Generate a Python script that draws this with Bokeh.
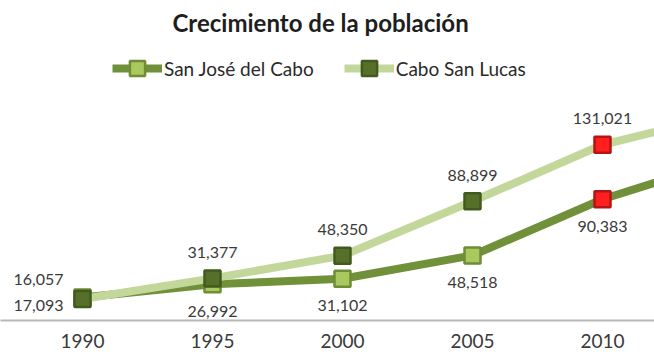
from bokeh.plotting import figure
from bokeh.models import Range1d, Legend, LegendItem, ColumnDataSource, FixedTicker
from bokeh.embed import file_html
from bokeh.resources import INLINE
from bokeh.core.properties import value

# ---- data ----
years = [1990, 1995, 2000, 2005, 2010, 2015]
san_jose = [17093, 26992, 31102, 48518, 90383, 121000]   # 2015 estimated (off-chart)
cabo_san_lucas = [16057, 31377, 48350, 88899, 131021, 155000]
tick_years = [1990, 1995, 2000, 2005, 2010]
highlight_year = 2010
labelled_years = [1990, 1995, 2000, 2005, 2010]

FONT = "Lato"

# colours
sj_line = "#71903A"
sj_fill, sj_edge = "#A9C95E", "#6F8D34"
csl_line = "#C4D79B"
csl_fill, csl_edge = "#56702A", "#435A1E"
red_fill, red_edge = "#FF1F1F", "#B51414"

def colors(fill, edge):
    f = [red_fill if y == highlight_year else fill for y in years]
    e = [red_edge if y == highlight_year else edge for y in years]
    return f, e

sj_f, sj_e = colors(sj_fill, sj_edge)
csl_f, csl_e = colors(csl_fill, csl_edge)

src_sj = ColumnDataSource(dict(x=years, y=san_jose, f=sj_f, e=sj_e))
src_csl = ColumnDataSource(dict(x=years, y=cabo_san_lucas, f=csl_f, e=csl_e))

p = figure(width=654, height=356, output_backend="svg", toolbar_location=None,
           x_range=Range1d(1986.846, 2012.0), y_range=Range1d(0, 208000),
           y_axis_location=None, min_border_left=0, min_border_right=0,
           min_border_top=0, min_border_bottom=36)
p.title.text = "Crecimiento de la población"
p.title.align = "left"
p.title.offset = 172
p.title.text_font = FONT
p.title.text_font_size = "24px"
p.title.text_font_style = "bold"
p.title.text_color = "#1E1E1E"

p.grid.visible = False
p.outline_line_color = None
p.background_fill_color = "white"
p.border_fill_color = "white"

ax = p.xaxis[0]
ax.ticker = FixedTicker(ticks=tick_years)
ax.axis_line_color = "#B8B8B8"
ax.axis_line_width = 2
ax.major_tick_line_color = None
ax.major_tick_out = 0
ax.major_tick_in = 0
ax.minor_tick_line_color = None
ax.minor_tick_out = 0
ax.major_label_text_font = FONT
ax.major_label_text_font_size = "19px"
ax.major_label_text_color = "#3A3A3A"
ax.major_label_standoff = 13

l1 = p.line("x", "y", source=src_sj, line_color=sj_line, line_width=8, line_join="round")
m1 = p.scatter("x", "y", source=src_sj, marker="square", size=16,
               fill_color="f", line_color="e", line_width=2.5)
l2 = p.line("x", "y", source=src_csl, line_color=csl_line, line_width=8, line_join="round")
m2 = p.scatter("x", "y", source=src_csl, marker="square", size=16,
               fill_color="f", line_color="e", line_width=2.5)

# data labels
def fmt(v):
    return f"{v:,}"

first = [i for i, y in enumerate(years) if y == labelled_years[0]]
rest = [i for i, y in enumerate(years) if y in labelled_years[1:]]

def label_src(vals, idx):
    return ColumnDataSource(dict(x=[years[i] for i in idx], y=[vals[i] for i in idx],
                                 t=[fmt(vals[i]) for i in idx]))

common = dict(text="t", text_font=value(FONT), text_font_size="16px",
              text_color="#3A3A3A", text_baseline="middle")
p.text("x", "y", source=label_src(cabo_san_lucas, rest), text_align="center", y_offset=-26, **common)
p.text("x", "y", source=label_src(san_jose, rest), text_align="center", y_offset=27, **common)
p.text("x", "y", source=label_src(cabo_san_lucas, first), text_align="right", x_offset=-19, y_offset=-19, **common)
p.text("x", "y", source=label_src(san_jose, first), text_align="right", x_offset=-19, y_offset=8, **common)

legend = Legend(items=[
    LegendItem(label="San José del Cabo", renderers=[l1, m1], index=0),
    LegendItem(label="Cabo San Lucas", renderers=[l2, m2], index=0),
], orientation="horizontal", location=(112, 233),
    border_line_color=None, background_fill_alpha=0,
    label_text_font=FONT, label_text_font_size="19px", label_text_color="#2A2A2A",
    glyph_width=50, glyph_height=38, spacing=30, label_standoff=2, padding=0, margin=0)
p.add_layout(legend)

open("out.html", "w").write(file_html(p, INLINE))
